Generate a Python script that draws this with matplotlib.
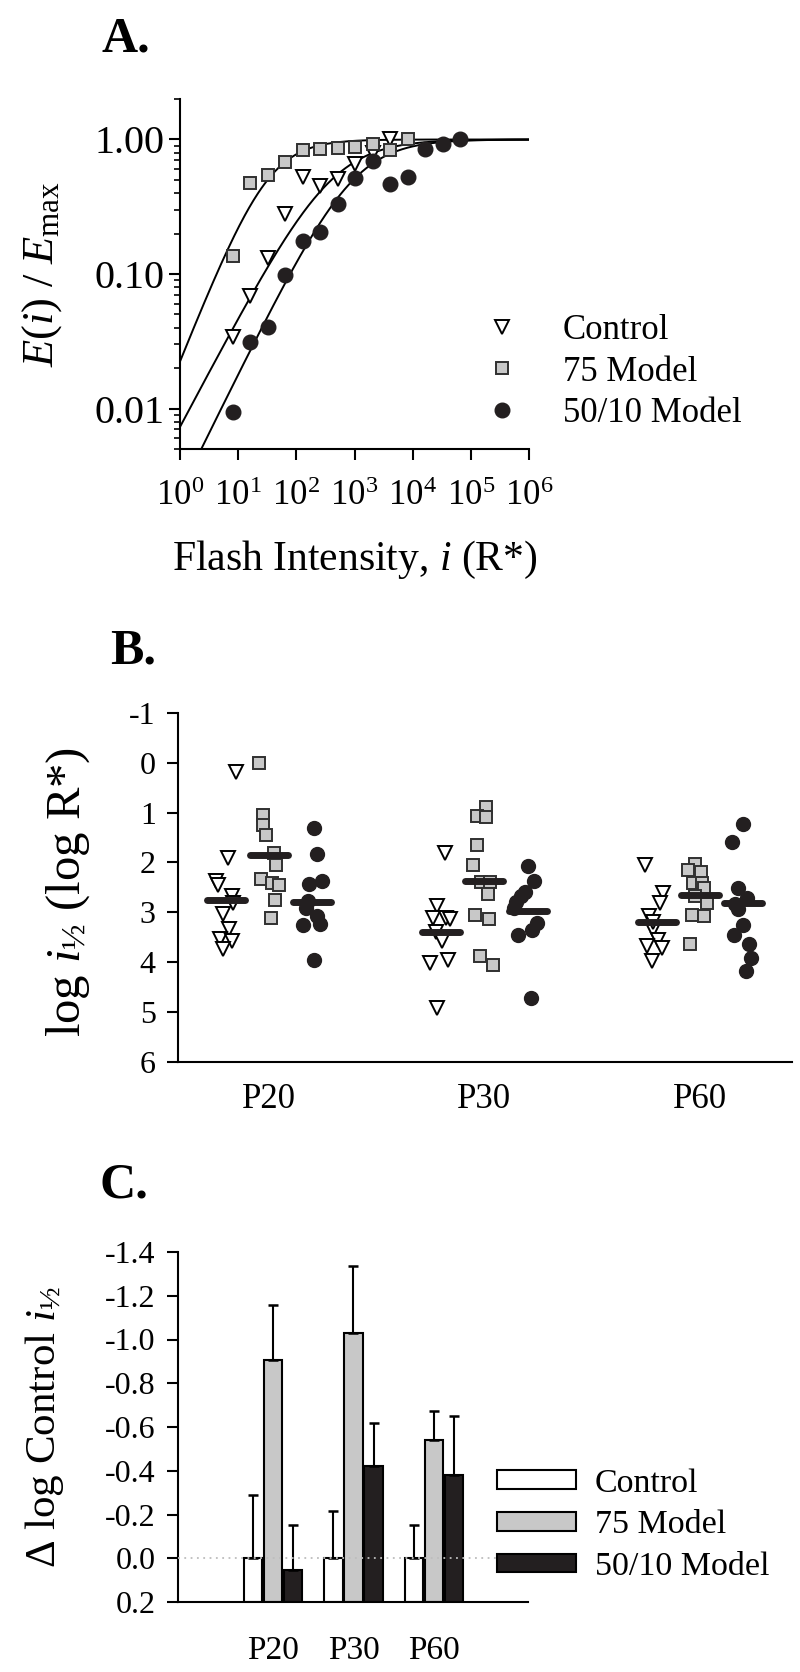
import numpy as np
import matplotlib
matplotlib.use('Agg')
import matplotlib.pyplot as plt
from matplotlib.ticker import LogLocator, NullFormatter
from matplotlib.patches import Patch
from matplotlib.lines import Line2D

# Fontes parecidas com Times
plt.rcParams['font.family'] = ['Liberation Serif', 'DejaVu Serif']
plt.rcParams['mathtext.fontset'] = 'custom'
plt.rcParams['mathtext.rm'] = 'Liberation Serif'
plt.rcParams['mathtext.it'] = 'Liberation Serif:italic'
plt.rcParams['mathtext.bf'] = 'Liberation Serif:bold'
plt.rcParams['axes.unicode_minus'] = False

# ------------------------------------------------------------ Dados painel A
intensidade = [8, 16, 32, 64, 128, 256, 512, 1024, 2048, 4096, 8192, 16384, 32768, 65536]
a_controle = [0.034, 0.069, 0.131, 0.28, 0.53, 0.45, 0.51, 0.66, 0.80, 1.0]
a_modelo75 = [0.137, 0.475, 0.548, 0.68, 0.84, 0.85, 0.86, 0.88, 0.93, 0.83, 1.0]
a_modelo5010 = [0.0094, 0.031, 0.0405, 0.099, 0.175, 0.206, 0.331, 0.518, 0.69, 0.47, 0.53, 0.85, 0.93, 1.0]

# parametros do ajuste (i meio, n)
ajuste_controle = (400, 0.82)
ajuste_modelo75 = (32, 1.09)
ajuste_modelo5010 = (950, 0.88)

# ------------------------------------------------------------ Dados painel B
idades = ['P20', 'P30', 'P60']

b_controle = [[0.18, 1.91, 2.37, 2.45, 2.67, 2.81, 3.03, 3.33, 3.53, 3.58, 3.73],
              [1.81, 2.87, 3.11, 3.11, 3.14, 3.39, 3.58, 4.01, 3.96, 4.91],
              [2.05, 2.61, 2.81, 3.08, 3.35, 3.55, 3.67, 3.71, 3.97, 3.2]]
b_controle_x = [[-0.153, -0.19, -0.246, -0.237, -0.172, -0.167, -0.213, -0.186, -0.227, -0.172, -0.213],
                [-0.181, -0.221, -0.237, -0.178, -0.159, -0.224, -0.196, -0.255, -0.170, -0.221],
                [-0.255, -0.173, -0.186, -0.235, -0.219, -0.193, -0.247, -0.178, -0.224, -0.217]]

b_modelo75 = [[0.0, 1.06, 1.25, 1.45, 1.81, 2.06, 2.33, 2.41, 2.46, 2.75, 3.11],
              [0.89, 1.08, 1.09, 1.65, 2.06, 2.40, 2.40, 2.63, 3.06, 3.13, 3.87, 4.06],
              [2.03, 2.16, 2.20, 2.41, 2.41, 2.52, 2.67, 2.81, 3.05, 3.07, 3.63]]
b_modelo75_x = [[-0.048, -0.028, -0.029, -0.014, 0.023, 0.032, -0.039, 0.013, 0.046, 0.026, 0.009],
                [0.005, -0.036, 0.008, -0.036, -0.054, -0.015, 0.026, 0.015, -0.045, 0.020, -0.023, 0.039],
                [-0.022, -0.057, 0.003, -0.034, 0.008, 0.020, -0.023, 0.031, -0.039, 0.019, -0.046]]

b_modelo5010 = [[1.31, 1.83, 2.38, 2.43, 2.78, 2.91, 3.08, 3.25, 3.23, 3.96],
                [2.07, 2.38, 2.6, 2.68, 2.8, 2.91, 3.21, 3.35, 3.45, 4.71],
                [1.23, 1.6, 2.51, 2.71, 2.83, 2.93, 3.26, 3.45, 3.63, 3.92, 4.17]]
b_modelo5010_x = [[0.210, 0.224, 0.247, 0.184, 0.182, 0.172, 0.224, 0.159, 0.237, 0.209],
                  [0.203, 0.229, 0.186, 0.170, 0.147, 0.139, 0.245, 0.222, 0.155, 0.217],
                  [0.201, 0.147, 0.178, 0.217, 0.162, 0.178, 0.201, 0.159, 0.229, 0.235, 0.213]]

b_media_controle = [2.75, 3.39, 3.19]
b_media_modelo75 = [1.85, 2.37, 2.66]
b_media_modelo5010 = [2.79, 2.97, 2.81]

# ------------------------------------------------------------ Dados painel C
c_controle = [0.0, 0.0, 0.0]
c_controle_erro = [0.29, 0.214, 0.154]
c_modelo75 = [-0.908, -1.031, -0.542]
c_modelo75_erro = [0.249, 0.305, 0.130]
c_modelo5010 = [0.052, -0.423, -0.379]
c_modelo5010_erro = [0.206, 0.195, 0.273]

cinza = '#c8c8c8'
preto = '#231f20'

fig = plt.figure(figsize=(8, 16.72), dpi=100)
W, H = 800, 1672


def eixo(x0, y0, x1, y1):
    # posicao em pixels -> fracao da figura
    return fig.add_axes([x0 / W, 1 - y1 / H, (x1 - x0) / W, (y1 - y0) / H])


def estilo(ax):
    for lado in ['top', 'right']:
        ax.spines[lado].set_visible(False)
    for lado in ['left', 'bottom']:
        ax.spines[lado].set_linewidth(1.5)


def hill(i, i_meio, n):
    return i ** n / (i ** n + i_meio ** n)


# ------------------------------------------------------------ Grafico A
ax_a = eixo(180, 99, 529, 449)
estilo(ax_a)
ax_a.set_xscale('log')
ax_a.set_yscale('log')

x_curva = np.logspace(0, 6, 400)
for par in [ajuste_controle, ajuste_modelo75, ajuste_modelo5010]:
    ax_a.plot(x_curva, hill(x_curva, *par), color='black', lw=1.4, zorder=2)

ax_a.plot(intensidade[:len(a_controle)], a_controle, ls='none', marker='v', ms=10,
          mfc='white', mec='black', mew=1.4, zorder=3)
ax_a.plot(intensidade[:len(a_modelo75)], a_modelo75, ls='none', marker='s', ms=9,
          mfc=cinza, mec='#303030', mew=1.4, zorder=4)
ax_a.plot(intensidade[:len(a_modelo5010)], a_modelo5010, ls='none', marker='o', ms=10.5,
          mfc=preto, mec=preto, zorder=5)

ax_a.set_xlim(1, 1e6)
ax_a.set_ylim(0.005, 2)
ax_a.set_xticks([10.0 ** k for k in range(7)])
ax_a.set_xticklabels([r'$10^{%d}$' % k for k in range(7)])
ax_a.xaxis.set_minor_locator(plt.NullLocator())
ax_a.set_yticks([0.01, 0.1, 1.0])
ax_a.set_yticklabels(['0.01', '0.10', '1.00'])
ax_a.yaxis.set_minor_locator(LogLocator(base=10, subs=np.arange(2, 10)))
ax_a.yaxis.set_minor_formatter(NullFormatter())
ax_a.tick_params(which='major', length=8, width=1.5)
ax_a.tick_params(axis='x', pad=14, labelsize=25)
ax_a.tick_params(axis='y', pad=3, labelsize=29)
ax_a.tick_params(which='minor', length=4.5, width=1.2)

ax_a.set_xlabel(r'Flash Intensity, $i$ (R*)', fontsize=30)
ax_a.xaxis.set_label_coords(0.5, -(560 - 449) / 350)
ax_a.xaxis.label.set_va('center')
ax_a.set_ylabel(r'$E(i)\ /\ E_{\mathrm{max}}$', fontsize=32)
ax_a.yaxis.set_label_coords(-(180 - 42) / 349, 0.5)
ax_a.yaxis.label.set_va('center')

leg_a = [Line2D([], [], ls='none', marker='v', ms=10, mfc='white', mec='black', mew=1.4),
         Line2D([], [], ls='none', marker='s', ms=9, mfc=cinza, mec='#303030', mew=1.4),
         Line2D([], [], ls='none', marker='o', ms=10.5, mfc=preto, mec=preto)]
ax_a.legend(leg_a, ['Control', '75 Model', '50/10 Model'], loc='center left',
            bbox_to_anchor=(485 / W, 1 - 372 / H), bbox_transform=fig.transFigure,
            frameon=False, fontsize=25, handlelength=1.0, handletextpad=1.25,
            labelspacing=0.25, borderpad=0, borderaxespad=0)

fig.text(102 / W, 1 - 40 / H, 'A.', fontsize=36, fontweight='bold', ha='left', va='center')

# ------------------------------------------------------------ Grafico B
ax_b = eixo(178, 712.7, 792, 1062)
estilo(ax_b)
pos = np.arange(1, len(idades) + 1)

for k in range(len(idades)):
    ax_b.plot(pos[k] + np.array(b_controle_x[k]), b_controle[k], ls='none', marker='v', ms=10,
              mfc='white', mec='black', mew=1.4, zorder=3)
    ax_b.plot(pos[k] + np.array(b_modelo75_x[k]), b_modelo75[k], ls='none', marker='s', ms=8.5,
              mfc=cinza, mec='#303030', mew=1.4, zorder=4)
    ax_b.plot(pos[k] + np.array(b_modelo5010_x[k]), b_modelo5010[k], ls='none', marker='o', ms=10,
              mfc=preto, mec=preto, zorder=5)

# linhas das medias
for desloc, medias in [(-0.2, b_media_controle), (0.0, b_media_modelo75), (0.2, b_media_modelo5010)]:
    for k, m in enumerate(medias):
        ax_b.plot([pos[k] + desloc - 0.088, pos[k] + desloc + 0.088], [m, m], color=preto,
                  lw=5, solid_capstyle='round', zorder=6)

ax_b.set_xlim(0.578, 3.427)
ax_b.set_ylim(6, -1)
ax_b.set_yticks(range(-1, 7))
ax_b.set_xticks(pos)
ax_b.set_xticklabels(idades)
ax_b.tick_params(axis='y', length=8, width=1.5, labelsize=23, pad=8)
ax_b.tick_params(axis='x', length=0, labelsize=25, pad=15)
ax_b.set_ylabel(r'log $i_{\mathrm{½}}$ (log R*)', fontsize=35)
ax_b.yaxis.set_label_coords(-(178 - 68) / 614, 0.487)
ax_b.yaxis.label.set_va('center')

fig.text(110 / W, 1 - 652 / H, 'B.', fontsize=36, fontweight='bold', ha='left', va='center')

# ------------------------------------------------------------ Grafico C
ax_c = eixo(178, 1252, 528, 1602)
estilo(ax_c)
xc = np.arange(len(idades))
largura = 0.23
base = 0.2

series = [(c_controle, c_controle_erro, 'white', -0.25),
          (c_modelo75, c_modelo75_erro, cinza, 0.0),
          (c_modelo5010, c_modelo5010_erro, preto, 0.25)]
for valores, erros, cor, desloc in series:
    v = np.array(valores)
    ax_c.bar(xc + desloc, v - base, bottom=base, width=largura, color=cor,
             edgecolor='black', linewidth=1.5, zorder=2)
    ax_c.errorbar(xc + desloc, v, yerr=[erros, np.zeros(len(erros))], fmt='none',
                  ecolor='black', elinewidth=1.5, capsize=3.5, capthick=1.8, zorder=3)

ax_c.axhline(0, color='#bdbdbd', lw=1.3, ls=(0, (1, 2.5)), zorder=4)

ticks_c = np.round(np.arange(-1.4, 0.21, 0.2), 1)
ax_c.set_xlim(-1.18, 3.168)
ax_c.set_ylim(base, -1.4)
ax_c.set_yticks(ticks_c)
ax_c.set_yticklabels(['%.1f' % (t + 0.0) for t in ticks_c])
ax_c.set_xticks(xc)
ax_c.set_xticklabels(idades)
ax_c.tick_params(axis='y', length=8, width=1.5, labelsize=23, pad=8)
ax_c.tick_params(axis='x', length=0, labelsize=24, pad=24)
ax_c.set_ylabel(r'Δ log Control $i_{\mathrm{½}}$', fontsize=31)
ax_c.yaxis.set_label_coords(-(178 - 45) / 350, 0.5)
ax_c.yaxis.label.set_va('center')

leg_c = [Patch(facecolor='white', edgecolor='black', linewidth=1.5),
         Patch(facecolor=cinza, edgecolor='black', linewidth=1.5),
         Patch(facecolor=preto, edgecolor='black', linewidth=1.5)]
ax_c.legend(leg_c, ['Control', '75 Model', '50/10 Model'], loc='center left',
            bbox_to_anchor=(497 / W, 1 - 1525 / H), bbox_transform=fig.transFigure,
            frameon=False, fontsize=24.5, handlelength=2.32, handleheight=0.47,
            handletextpad=0.56, labelspacing=0.33, borderpad=0, borderaxespad=0)

fig.text(100 / W, 1 - 1186 / H, 'C.', fontsize=36, fontweight='bold', ha='left', va='center')

fig.savefig('out.png', dpi=100)
